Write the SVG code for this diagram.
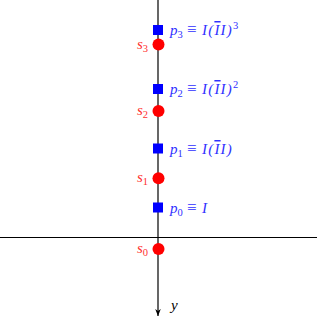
<svg xmlns="http://www.w3.org/2000/svg" width="317" height="317" viewBox="0 0 317 317">
<defs>
<style>
.ax{stroke:#000;stroke-width:1.2;fill:none}
.pt{fill:#0000ff}
.st{fill:#ff0000}
.lp{font-family:"Liberation Serif",serif;font-size:15px;fill:#3030ff;font-style:italic}
.ls{font-family:"Liberation Serif",serif;font-size:15px;fill:#ff3030;font-style:italic}
.up{font-style:normal}
.sub{font-size:10.5px;font-style:normal}
.eq{font-style:normal;font-size:17px}
.rest{letter-spacing:1.2px}
.ob{text-decoration:overline}
</style>
<marker id="arr" viewBox="0 0 10 10" refX="10" refY="5" markerWidth="7" markerHeight="7" markerUnits="userSpaceOnUse" orient="auto">
<path d="M0,1 L10,5 L0,9 L3,5 Z" fill="#000"/>
</marker>
</defs>
<rect width="317" height="317" fill="#fff"/>
<g id="connectors">
<line class="ax" x1="0" y1="237.5" x2="317" y2="237.5"/>
<line class="ax" x1="158" y1="0" x2="158" y2="316" marker-end="url(#arr)"/>
</g>
<g id="p3"><rect class="pt" x="153" y="25" width="10" height="10"/><text class="lp" y="35"><tspan x="170">p</tspan><tspan class="sub" dy="3">3</tspan><tspan class="eq" x="187" dy="-3">≡</tspan><tspan class="rest" x="202">I(<tspan class="ob">I</tspan>I)</tspan><tspan class="sub" dy="-6">3</tspan></text></g>
<g id="p2"><rect class="pt" x="153" y="84" width="10" height="10"/><text class="lp" y="94"><tspan x="170">p</tspan><tspan class="sub" dy="3">2</tspan><tspan class="eq" x="187" dy="-3">≡</tspan><tspan class="rest" x="202">I(<tspan class="ob">I</tspan>I)</tspan><tspan class="sub" dy="-6">2</tspan></text></g>
<g id="p1"><rect class="pt" x="153" y="143.5" width="10" height="10"/><text class="lp" y="154"><tspan x="170">p</tspan><tspan class="sub" dy="3">1</tspan><tspan class="eq" x="187" dy="-3">≡</tspan><tspan class="rest" x="202">I(<tspan class="ob">I</tspan>I)</tspan></text></g>
<g id="p0"><rect class="pt" x="153" y="202.5" width="10" height="10"/><text class="lp" y="213"><tspan x="170">p</tspan><tspan class="sub" dy="3">0</tspan><tspan class="eq" x="187" dy="-3">≡</tspan><tspan x="202">I</tspan></text></g>
<g id="s3"><circle class="st" cx="158.5" cy="44.5" r="6"/><text class="ls" x="148" y="48.5" text-anchor="end">s<tspan class="sub" dy="3">3</tspan></text></g>
<g id="s2"><circle class="st" cx="158.5" cy="111" r="6"/><text class="ls" x="148" y="115" text-anchor="end">s<tspan class="sub" dy="3">2</tspan></text></g>
<g id="s1"><circle class="st" cx="158.5" cy="178.3" r="6"/><text class="ls" x="148" y="182.3" text-anchor="end">s<tspan class="sub" dy="3">1</tspan></text></g>
<g id="s0"><circle class="st" cx="158.5" cy="249" r="6"/><text class="ls" x="148" y="253" text-anchor="end">s<tspan class="sub" dy="3">0</tspan></text></g>
<text x="171" y="310" font-family="Liberation Serif,serif" font-size="15" font-style="italic" fill="#000">y</text>
</svg>
